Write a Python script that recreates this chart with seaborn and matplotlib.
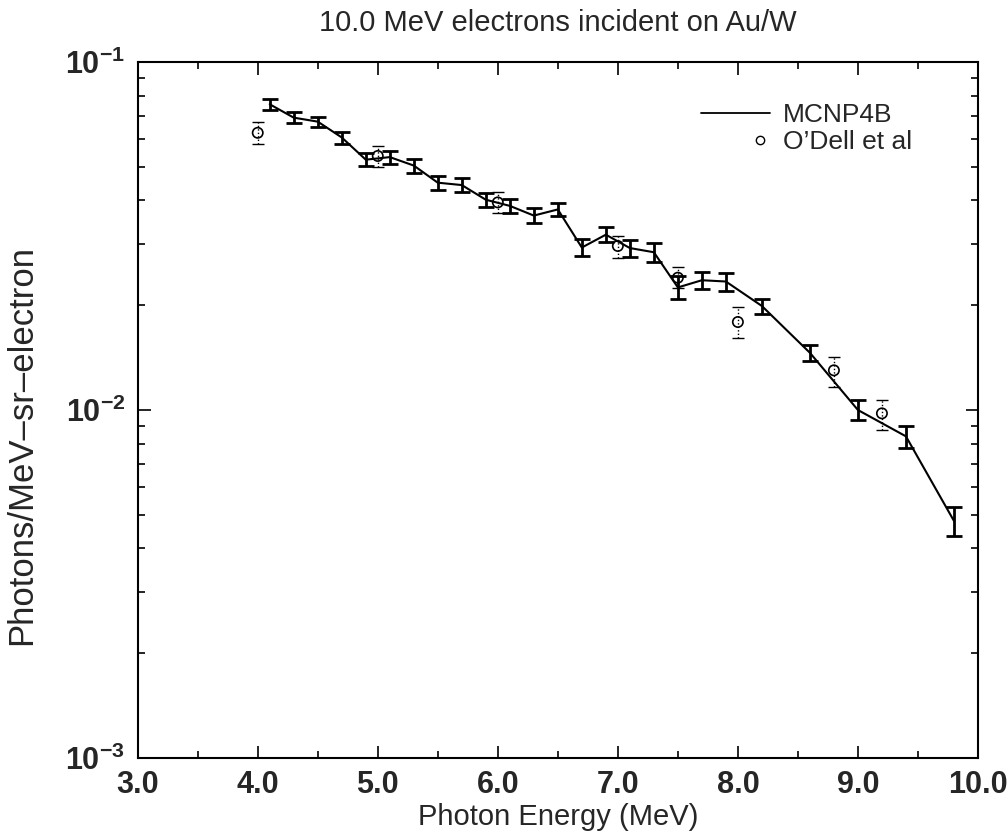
import matplotlib
matplotlib.use("Agg")
import matplotlib.pyplot as plt
import seaborn as sns
import pandas as pd
from matplotlib.ticker import MultipleLocator, LogLocator, NullFormatter, FormatStrFormatter
from matplotlib.lines import Line2D
from matplotlib.legend_handler import HandlerLine2D

# ---- data ----
mcnp_energy = [4.1, 4.3, 4.5, 4.7, 4.9, 5.1, 5.3, 5.5, 5.7, 5.9, 6.1, 6.3, 6.5,
               6.7, 6.9, 7.1, 7.3, 7.5, 7.7, 7.9, 8.2, 8.6, 9.0, 9.4, 9.8]
mcnp_flux = [0.0756, 0.0692, 0.0674, 0.0607, 0.0524, 0.0533, 0.0504, 0.0450,
             0.0443, 0.0402, 0.0386, 0.0362, 0.0377, 0.0293, 0.0319, 0.0292,
             0.0284, 0.0225, 0.0236, 0.0234, 0.0199, 0.0146, 0.0100, 0.0084,
             0.0048]
mcnp_err = [0.0026, 0.0026, 0.0023, 0.0024, 0.0023, 0.0023, 0.0023, 0.0020,
            0.0020, 0.0019, 0.0017, 0.0018, 0.0017, 0.0016, 0.0016, 0.0016,
            0.0017, 0.0017, 0.0014, 0.0014, 0.0010, 0.0008, 0.00065, 0.00062,
            0.00047]

odell_energy = [4.0, 5.0, 6.0, 7.0, 7.5, 8.0, 8.8, 9.2]
odell_flux = [0.0626, 0.0537, 0.0395, 0.0296, 0.0240, 0.0179, 0.0130, 0.00978]
odell_low = [0.0581, 0.0498, 0.0369, 0.0273, 0.0224, 0.0161, 0.01167, 0.00877]
odell_high = [0.0674, 0.0574, 0.0422, 0.0316, 0.0257, 0.0198, 0.0142, 0.0107]

title = "10.0 MeV electrons incident on Au/W"
xlabel = "Photon Energy (MeV)"
ylabel = "Photons/MeV\u2013sr\u2013electron"
legend_labels = ["MCNP4B", "O\u2019Dell et al"]

# ---- style ----
sns.set_theme(style="ticks")
plt.rcParams["font.family"] = ["Liberation Sans", "DejaVu Sans"]
plt.rcParams["mathtext.fontset"] = "custom"
plt.rcParams["mathtext.rm"] = "Liberation Sans:bold"
plt.rcParams["mathtext.it"] = "Liberation Sans:bold"
plt.rcParams["mathtext.bf"] = "Liberation Sans:bold"

fig = plt.figure(figsize=(10.08, 8.38), dpi=100)
ax = fig.add_axes([0.1366, 0.0955, 0.8336, 0.8305])

mcnp = pd.DataFrame({"energy": mcnp_energy, "flux": mcnp_flux, "err": mcnp_err})
odell = pd.DataFrame({"energy": odell_energy, "flux": odell_flux,
                      "low": odell_low, "high": odell_high})

sns.lineplot(data=mcnp, x="energy", y="flux", ax=ax, color="black",
             linewidth=1.5, legend=False)
ax.errorbar(mcnp["energy"], mcnp["flux"], yerr=mcnp["err"], fmt="none",
            ecolor="black", elinewidth=2.0, capsize=6, capthick=2.0)

eb = ax.errorbar(odell["energy"], odell["flux"],
                 yerr=[odell["flux"] - odell["low"], odell["high"] - odell["flux"]],
                 fmt="none", ecolor="black", elinewidth=1.0, capsize=4,
                 capthick=1.0)
for lc in eb[2]:
    lc.set_linestyle((0, (1, 1.5)))
sns.scatterplot(data=odell, x="energy", y="flux", ax=ax, marker="o", s=55,
                facecolor="none", edgecolor="black", linewidth=1.2,
                legend=False, zorder=5)

ax.set_yscale("log")
ax.set_xlim(3.0, 10.0)
ax.set_ylim(1e-3, 1e-1)
ax.xaxis.set_major_locator(MultipleLocator(1.0))
ax.xaxis.set_minor_locator(MultipleLocator(0.5))
ax.xaxis.set_major_formatter(FormatStrFormatter("%.1f"))
ax.yaxis.set_major_locator(LogLocator(base=10, numticks=10))
ax.yaxis.set_minor_locator(LogLocator(base=10, subs=range(2, 10), numticks=20))
ax.yaxis.set_minor_formatter(NullFormatter())

ax.tick_params(which="both", direction="in", top=True, right=True,
               color="black", width=1.2)
ax.tick_params(which="major", length=9, labelsize=22, pad=9)
ax.tick_params(which="minor", length=5)
for lab in ax.get_xticklabels() + ax.get_yticklabels():
    lab.set_fontweight("bold")
for s in ax.spines.values():
    s.set_linewidth(1.5)
    s.set_color("black")

ax.set_title(title, fontsize=21, pad=22)
ax.set_xlabel(xlabel, fontsize=21, labelpad=2)
ax.set_ylabel(ylabel, fontsize=25)
ax.yaxis.set_label_coords(-0.118, 0.45)


class RightMarkerHandler(HandlerLine2D):
    def create_artists(self, legend, orig_handle, xdescent, ydescent, width,
                       height, fontsize, trans):
        artists = super().create_artists(legend, orig_handle, xdescent, ydescent,
                                         width, height, fontsize, trans)
        for a in artists:
            if a.get_marker() not in (None, "None", "", " "):
                a.set_xdata([width * 0.85 - xdescent])
        return artists


handles = [
    Line2D([], [], color="black", linewidth=1.3),
    Line2D([], [], linestyle="none", marker="o", markersize=6,
           markerfacecolor="none", markeredgecolor="black", markeredgewidth=1.0),
]
ax.legend(handles, legend_labels, loc="upper right",
          bbox_to_anchor=(0.95, 0.975), frameon=False, fontsize=19,
          handlelength=2.6, handletextpad=0.5, labelspacing=0.12,
          handler_map={handles[1]: RightMarkerHandler()})

fig.savefig("out.png", dpi=100)
